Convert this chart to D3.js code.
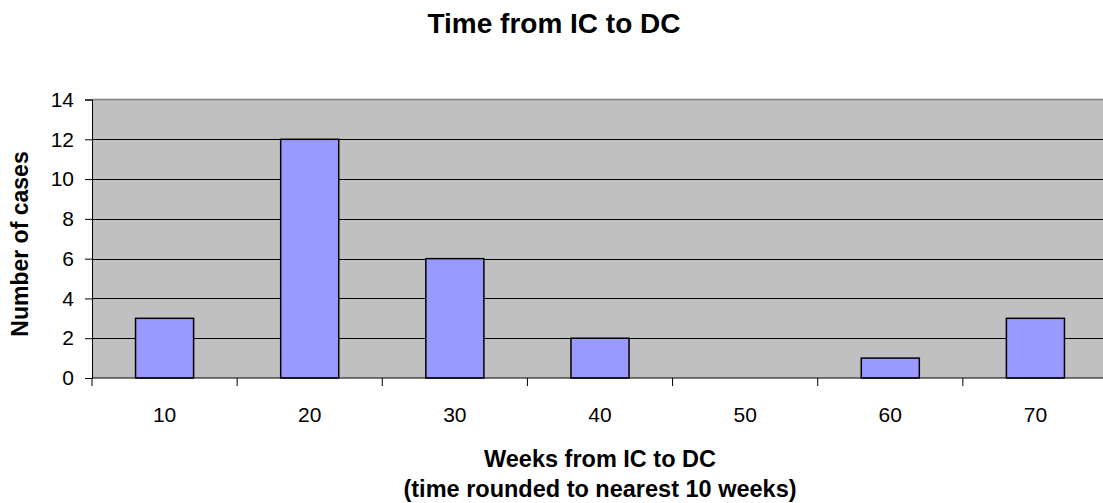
<!DOCTYPE html>
<html><head><meta charset="utf-8">
<script src="https://cdn.jsdelivr.net/npm/d3@7"></script>
<style>body{margin:0;background:#fff;}svg{display:block;font-family:Arial,"Liberation Sans",sans-serif;}</style>
</head><body><svg id="c" width="1103" height="503"></svg>
<script>
const categories = ["10","20","30","40","50","60","70"];
const values = [3,12,6,2,0,1,3];
const yTicks = [0,2,4,6,8,10,12,14];

const svg = d3.select("#c");
const L=92, R=1108, T=99.5, B=378;
const x = d3.scaleBand().domain(categories).range([L,R]).paddingInner(0.6).paddingOuter(0.3);
const y = d3.scaleLinear().domain([0,14]).range([B,T]);

svg.append("rect").attr("x",L).attr("y",T).attr("width",R-L).attr("height",B-T).attr("fill","#c0c0c0");
svg.append("g").selectAll("line").data(yTicks.filter(d=>d>0&&d<14)).join("line")
  .attr("x1",L).attr("x2",R).attr("y1",d=>Math.round(y(d))+0.5).attr("y2",d=>Math.round(y(d))+0.5)
  .attr("stroke","#000").attr("stroke-width",1);
svg.append("line").attr("x1",L).attr("x2",R).attr("y1",T).attr("y2",T).attr("stroke","#808080").attr("stroke-width",1.5);

svg.append("g").selectAll("rect").data(values).join("rect")
  .attr("x",(d,i)=>x(categories[i])).attr("width",x.bandwidth())
  .attr("y",d=>y(d)).attr("height",d=>B-y(d))
  .attr("fill","#9999ff").attr("stroke","#000").attr("stroke-width",1.5);

// y axis
const ya = svg.append("g").attr("transform",`translate(${L},0)`)
  .call(d3.axisLeft(y).tickValues(yTicks).tickSize(7).tickPadding(11).tickFormat(d3.format("d")));
ya.select(".domain").attr("stroke","#000");
ya.selectAll(".tick line").attr("stroke","#000");
ya.selectAll("text").attr("font-size",21).attr("fill","#000").style("font-family","Arial, 'Liberation Sans', sans-serif");

// x axis
const xa = svg.append("g").attr("transform",`translate(0,${B})`);
xa.append("line").attr("x1",L).attr("x2",R).attr("stroke","#000").attr("stroke-width",1);
const step = x.step();
xa.selectAll("line.t").data(d3.range(categories.length+1)).join("line").attr("class","t")
  .attr("x1",i=>L+i*step).attr("x2",i=>L+i*step).attr("y1",0).attr("y2",8).attr("stroke","#000");
xa.selectAll("text").data(categories).join("text")
  .attr("x",d=>x(d)+x.bandwidth()/2).attr("y",44).attr("text-anchor","middle")
  .attr("font-size",21).attr("fill","#000").text(d=>d);

svg.append("text").attr("x",554).attr("y",33).attr("text-anchor","middle")
  .attr("font-size",28).attr("font-weight","bold").text("Time from IC to DC");
svg.append("text").attr("x",600).attr("y",467).attr("text-anchor","middle")
  .attr("font-size",23.5).attr("font-weight","bold").text("Weeks from IC to DC");
svg.append("text").attr("x",600).attr("y",497).attr("text-anchor","middle")
  .attr("font-size",23.5).attr("font-weight","bold").text("(time rounded to nearest 10 weeks)");
svg.append("text").attr("transform","translate(28,244) rotate(-90)").attr("text-anchor","middle")
  .attr("font-size",23).attr("font-weight","bold").text("Number of cases");
</script></body></html>
